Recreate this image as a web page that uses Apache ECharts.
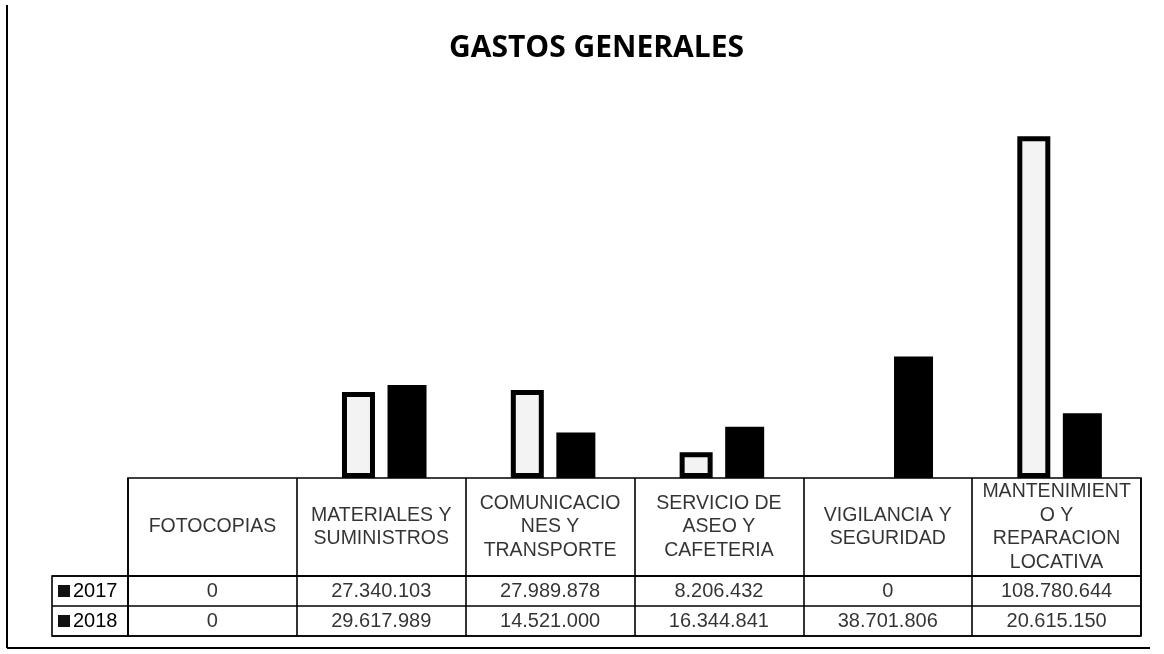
<!DOCTYPE html>
<html>
<head>
<meta charset="utf-8">
<script src="https://cdn.jsdelivr.net/npm/echarts@6/dist/echarts.min.js"></script>
<style>
  html, body { margin: 0; padding: 0; background: #fff; }
  #chart { width: 1164px; height: 654px; }
</style>
</head>
<body>
<div id="chart"></div>
<script>
const categories = [
  'FOTOCOPIAS',
  'MATERIALES Y\nSUMINISTROS',
  'COMUNICACIO\nNES Y\nTRANSPORTE',
  'SERVICIO DE\nASEO Y\nCAFETERIA',
  'VIGILANCIA Y\nSEGURIDAD',
  'MANTENIMIENT\nO Y\nREPARACION\nLOCATIVA'
]
const years = ['2017', '2018']
const values2017 = [0, 27340103, 27989878, 8206432, 0, 108780644]
const values2018 = [0, 29617989, 14521000, 16344841, 38701806, 20615150]

const fmt = v => String(v).replace(/\B(?=(\d{3})+(?!\d))/g, '.')
const font = "'Liberation Sans', Arial, sans-serif"
const line = { color: '#000', width: 1.6 }

const headerCells = categories.map((c, i) => [i, 0.5])
const valueCells = []
values2017.forEach((v, i) => valueCells.push([i, years[0], v]))
values2018.forEach((v, i) => valueCells.push([i, years[1], v]))

// zero bars leave no outline in the original
const bars2017 = values2017.map(v => v === 0 ? { value: v, itemStyle: { borderWidth: 0 } } : v)

const option = {
  backgroundColor: '#fff',
  animation: false,
  title: {
    text: 'GASTOS GENERALES',
    left: 444, top: 28,
    textStyle: { fontFamily: "'Open Sans', sans-serif", fontWeight: 'bold', fontSize: 30, color: '#000' }
  },
  grid: [
    { left: 131, right: 20, top: 101, height: 377 },
    { left: 128, right: 23, top: 478, height: 98, show: true, borderColor: '#000', borderWidth: 1.6 },
    { left: 128, right: 23, top: 576, height: 60, show: true, borderColor: '#000', borderWidth: 1.6 },
    { left: 52, width: 76, top: 576, height: 60, show: true, borderColor: '#000', borderWidth: 1.6 }
  ],
  xAxis: [
    { type: 'category', gridIndex: 0, data: categories, axisLine: { show: false }, axisTick: { show: false }, axisLabel: { show: false } },
    { type: 'category', gridIndex: 1, data: categories, axisLine: { show: false }, axisTick: { show: false }, axisLabel: { show: false },
      splitLine: { show: true, lineStyle: line } },
    { type: 'category', gridIndex: 2, data: categories, axisLine: { show: false }, axisTick: { show: false }, axisLabel: { show: false },
      splitLine: { show: true, lineStyle: line } },
    { type: 'value', gridIndex: 3, show: false }
  ],
  yAxis: [
    { type: 'value', gridIndex: 0, min: 0, max: 120000000, show: false },
    { type: 'value', gridIndex: 1, min: 0, max: 1, show: false },
    { type: 'category', gridIndex: 2, data: years, inverse: true, axisLine: { show: false }, axisTick: { show: false },
      axisLabel: { show: false }, splitLine: { show: true, lineStyle: line } },
    { type: 'category', gridIndex: 3, data: years, inverse: true, axisLine: { show: false }, axisTick: { show: false },
      splitLine: { show: true, lineStyle: line },
      axisLabel: {
        inside: true, margin: 6,
        formatter: v => '{sq| }{y|' + v + '}',
        rich: {
          sq: { width: 12, height: 12, backgroundColor: '#111' },
          y: { fontFamily: font, fontSize: 20, color: '#000', padding: [0, 0, 0, 3] }
        }
      } }
  ],
  series: [
    {
      name: '2017', type: 'bar', xAxisIndex: 0, yAxisIndex: 0, data: bars2017,
      barWidth: 33, barGap: '38%',
      itemStyle: { color: '#f3f3f3', borderColor: '#000', borderWidth: 5 }
    },
    {
      name: '2018', type: 'bar', xAxisIndex: 0, yAxisIndex: 0, data: values2018,
      barWidth: 39,
      itemStyle: { color: '#000' }
    },
    {
      type: 'scatter', xAxisIndex: 1, yAxisIndex: 1, data: headerCells, silent: true,
      symbolSize: 1, itemStyle: { color: 'rgba(0,0,0,0)' },
      label: { show: true, position: 'inside', formatter: p => categories[p.dataIndex],
        fontFamily: font, fontSize: 19.5, lineHeight: 23.5, color: '#000', align: 'center' }
    },
    {
      type: 'scatter', xAxisIndex: 2, yAxisIndex: 2, data: valueCells, silent: true,
      symbolSize: 1, itemStyle: { color: 'rgba(0,0,0,0)' },
      label: { show: true, position: 'inside', formatter: p => fmt(p.value[2]),
        fontFamily: font, fontSize: 20, color: '#000' }
    }
  ],
  graphic: [
    { type: 'line', shape: { x1: 7, y1: 5, x2: 7, y2: 648 }, style: { stroke: '#000', lineWidth: 2 } },
    { type: 'line', shape: { x1: 7, y1: 648, x2: 1150, y2: 648 }, style: { stroke: '#000', lineWidth: 2 } }
  ]
}

const chart = echarts.init(document.getElementById('chart'))
chart.setOption(option)
window.addEventListener('resize', () => { chart.resize() })
</script>
</body>
</html>
